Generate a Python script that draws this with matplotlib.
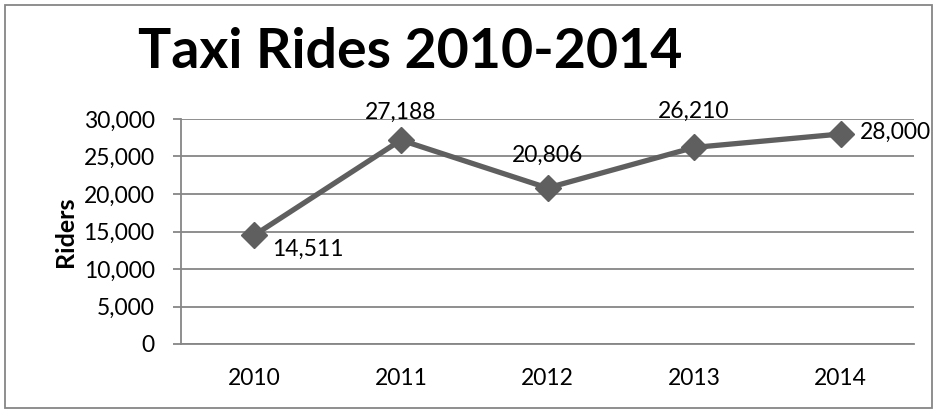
import numpy as np
import matplotlib.pyplot as plt
from matplotlib.patches import Rectangle

years = ['2010', '2011', '2012', '2013', '2014']
riders = [14511, 27188, 20806, 26210, 28000]
# label placement per point: (dx px, dy px, ha, va)
label_pos = [(18, -4, 'left', 'top'),
             (0, 17, 'center', 'bottom'),
             (0, 22, 'center', 'bottom'),
             (0, 26, 'center', 'bottom'),
             (19, 2, 'left', 'center')]

plt.rcParams['font.family'] = ['Lato', 'DejaVu Sans']
grey = '#5f5f5f'
gridc = '#868686'
fs = 16.5

fig = plt.figure(figsize=(9.35, 4.12), dpi=100)
W, H = 935, 412
ax = fig.add_axes([181 / W, 1 - 344 / H, 733 / W, 225 / H])

x = np.arange(len(years))
ax.plot(x, riders, color=grey, lw=3.8, marker='D', ms=13, mec=grey, mfc=grey, zorder=3, clip_on=False)
for xi, v, (dx, dy, ha, va) in zip(x, riders, label_pos):
    ax.annotate('{:,}'.format(v), (xi, v), xytext=(dx * 0.72, dy * 0.72), textcoords='offset points',
                ha=ha, va=va, fontsize=fs, color='black')

ax.set_xlim(-0.5, 4.5)
ax.set_ylim(0, 30000)
ax.set_yticks(np.arange(0, 30001, 5000))
ax.set_yticklabels(['{:,}'.format(t) for t in range(0, 30001, 5000)], fontsize=fs)
ax.set_xticks(x)
ax.set_xticklabels(years, fontsize=fs)
ax.yaxis.grid(True, color=gridc, lw=1.3)
ax.set_axisbelow(True)
for s in ['top', 'right']:
    ax.spines[s].set_visible(False)
ax.spines['left'].set_color(gridc)
ax.spines['left'].set_linewidth(1.3)
ax.spines['bottom'].set_color(gridc)
ax.spines['bottom'].set_linewidth(1.3)
ax.tick_params(axis='y', length=6, color=gridc, width=1.3, pad=13)
ax.tick_params(axis='x', length=0, pad=17)
ax.set_ylabel('Riders', fontsize=18, fontweight='bold', labelpad=5)

fig.text(410 / W, 1 - 52 / H, 'Taxi Rides 2010-2014', ha='center', va='center',
         fontsize=40, fontweight='bold')
fig.patches.append(Rectangle((5 / W, 4 / H), 927 / W, 403 / H, transform=fig.transFigure,
                             fill=False, ec='#868686', lw=1.3))

fig.savefig('out.png', dpi=100)
